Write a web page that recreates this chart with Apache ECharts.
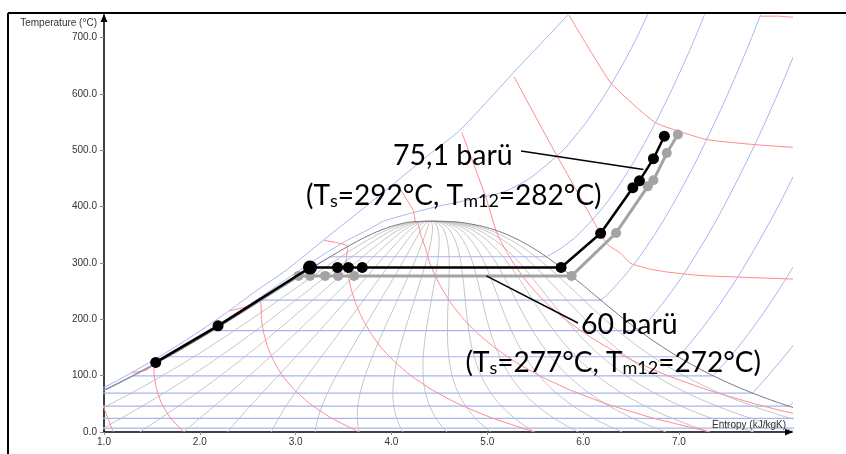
<!DOCTYPE html>
<html>
<head>
<meta charset="utf-8">
<script src="https://cdn.jsdelivr.net/npm/echarts@6/dist/echarts.min.js"></script>
<style>
  html, body { margin: 0; padding: 0; background: #fff; }
  #chart { width: 846px; height: 454px; }
</style>
</head>
<body>
<div id="chart"></div>
<script>
// Saturation table of water: temperature (°C), liquid / vapour entropy (kJ/kgK)
const satT  = [0.01, 10, 20, 30, 40, 50, 60, 70, 80, 90, 100, 110, 120, 130, 140, 150, 160, 170, 180, 190, 200, 210, 220, 230, 240, 250, 260, 270, 280, 290, 300, 310, 320, 330, 340, 350, 355, 360, 365, 370, 372, 373, 373.7, 373.95];
const satSf = [0.0000, 0.1510, 0.2966, 0.4369, 0.5724, 0.7038, 0.8313, 0.9551, 1.0756, 1.1929, 1.3072, 1.4188, 1.5279, 1.6346, 1.7392, 1.8418, 1.9426, 2.0417, 2.1392, 2.2355, 2.3305, 2.4245, 2.5177, 2.6101, 2.7020, 2.7935, 2.8849, 2.9765, 3.0685, 3.1612, 3.2552, 3.3510, 3.4494, 3.5518, 3.6601, 3.7784, 3.8438, 3.9167, 4.0014, 4.1112, 4.17, 4.22, 4.29, 4.4070];
const satSg = [9.1555, 8.8998, 8.6661, 8.4520, 8.2555, 8.0748, 7.9082, 7.7540, 7.6111, 7.4781, 7.3541, 7.2381, 7.1291, 7.0264, 6.9293, 6.8371, 6.7491, 6.6650, 6.5840, 6.5059, 6.4302, 6.3563, 6.2840, 6.2128, 6.1423, 6.0721, 6.0016, 5.9304, 5.8579, 5.7834, 5.7059, 5.6244, 5.5372, 5.4422, 5.3356, 5.2110, 5.1380, 5.0536, 4.9497, 4.8012, 4.72, 4.65, 4.56, 4.4070];

// Steam quality levels drawn inside the two-phase dome
const qualities = [0.05, 0.10, 0.15, 0.20, 0.25, 0.30, 0.35, 0.40, 0.45, 0.50, 0.55, 0.60, 0.65, 0.70, 0.75, 0.80, 0.85, 0.90, 0.95];

// Subcritical isobars (bar): saturation temperature and two-phase segment ends
const isoBar  = [0.01, 0.03, 0.1, 0.3, 1, 3, 10, 30, 100];
const isoTsat = [6.97, 24.08, 45.81, 69.10, 99.61, 133.52, 179.88, 233.85, 311.00];
const isoSf   = [0.1059, 0.3545, 0.6492, 0.9439, 1.3028, 1.6717, 2.1381, 2.6455, 3.3603];
const isoSg   = [8.9749, 8.5775, 8.1488, 7.7686, 7.3589, 6.9916, 6.5850, 6.1856, 5.6159];

// Superheated branches [s, T]
const sup0_1 = [[8.1488, 45.81], [8.24, 60]];
const sup0_3 = [[7.7686, 69.10], [7.931, 100], [8.176, 150], [8.40, 200]];
const sup1   = [[7.3589, 99.61], [7.6148, 150], [7.8356, 200], [8.0346, 250], [8.2172, 300]];
const sup3   = [[6.9916, 133.52], [7.0792, 150], [7.3132, 200], [7.5180, 250], [7.7037, 300], [8.0347, 400], [8.3271, 500]];
const sup10  = [[6.5850, 179.88], [6.6955, 200], [6.9265, 250], [7.1246, 300], [7.3029, 350], [7.4670, 400], [7.7642, 500], [8.0311, 600], [8.2755, 700]];
const sup30  = [[6.1856, 233.85], [6.2893, 250], [6.5412, 300], [6.7450, 350], [6.9235, 400], [7.0856, 450], [7.2359, 500], [7.5103, 600], [7.7590, 700], [7.9885, 800]];
const sup100 = [[5.6159, 311.0], [5.7596, 325], [5.9460, 350], [6.2141, 400], [6.4219, 450], [6.5995, 500], [6.7585, 550], [6.9045, 600], [7.0408, 650], [7.1693, 700], [7.4077, 800]];

// Compressed-liquid branch at 100 bar, and the 300 / 1000 bar isobars
const liq100 = [[0.5705, 40], [1.0720, 80], [1.3004, 100], [1.7307, 140], [2.1289, 180], [2.5038, 220], [2.8710, 260], [3.2488, 300], [3.3603, 311.0]];
const p300 = [[0.289, 20], [0.5646, 40], [0.8233, 60], [1.0640, 80], [1.2943, 100], [1.5088, 120], [1.7158, 140], [1.9132, 160], [2.1020, 180], [2.2850, 200], [2.4630, 220], [2.6373, 240], [2.8094, 260], [2.9813, 280], [3.1553, 300], [3.3364, 320], [3.5363, 340], [3.7675, 360], [3.9305, 375], [4.4728, 400], [5.1503, 425], [5.4423, 450], [5.7904, 500], [6.0342, 550], [6.2331, 600], [6.4058, 650], [6.5606, 700], [6.8332, 800]];
const p1000 = [[0.53, 40], [1.0, 79], [1.285, 105], [1.735, 150], [2.18, 200], [2.584, 250], [2.90, 287], [3.36, 350], [3.73, 400], [4.09, 450], [4.45, 500], [4.71, 535], [5.07, 600], [5.34, 650], [5.62, 700], [5.84, 740]];

// Isenthalps (kJ/kg) [s, T]
const h300  = [[0.99, 47], [1.05, 20], [1.097, 0.01]];
const h500  = [[1.285, 105], [1.445, 110], [1.52, 119.6], [1.524, 100], [1.55, 75], [1.603, 50], [1.693, 25], [1.83, 0.01]];
const h1000 = [[2.31, 215], [2.48, 222], [2.63, 232], [2.643, 200], [2.668, 175], [2.71, 150], [2.774, 125], [2.862, 100], [2.986, 75], [3.15, 50], [3.369, 25], [3.66, 0.01]];
const h1500 = [[3.30, 340], [3.43, 336], [3.544, 329.5], [3.53, 310], [3.526, 300], [3.55, 275], [3.585, 250], [3.634, 225], [3.70, 200], [3.785, 175], [3.891, 150], [4.03, 125], [4.204, 100], [4.422, 75], [4.697, 50], [5.047, 25], [5.49, 0.01]];
const h2000 = [[4.055, 440.7], [4.15, 415], [4.228, 393], [4.25, 373], [4.278, 370], [4.306, 350], [4.358, 325], [4.399, 300], [4.463, 275], [4.541, 250], [4.636, 225], [4.755, 200], [4.901, 175], [5.075, 150], [5.286, 125], [5.544, 100], [5.858, 75], [6.244, 50], [6.724, 25], [7.322, 0.01]];
const h2500 = [[4.733, 532], [4.98, 419], [5.09, 357.7], [5.136, 340], [5.201, 320], [5.271, 300], [5.375, 275], [5.496, 250], [5.639, 225], [5.813, 200], [6.017, 175], [6.255, 150], [6.542, 125], [6.883, 100], [7.294, 75], [7.791, 50], [8.02, 40], [8.267, 30]];
const h3000 = [[5.28, 630], [5.656, 512], [5.969, 417], [6.247, 334], [6.386, 318], [6.50, 299], [6.70, 289], [6.873, 284], [7.20, 278], [7.60, 275], [8.25, 271]];
const h3500 = [[5.85, 740], [6.07, 678], [6.296, 618], [6.755, 549], [7.29, 519], [7.79, 510], [8.20, 505]];
const h4000 = [[7.85, 738], [8.03, 738], [8.35, 733]];

// Process lines: 60 bar (grey) and 75.1 bar (black), [s, T]
const line60 = [[1.54, 123.5], [2.19, 188.4], [3.03, 277], [3.15, 277], [3.307, 277], [3.443, 277], [3.61, 277], [5.88, 277], [6.344, 353.2], [6.675, 435.9], [6.734, 446.6], [6.873, 495], [6.989, 528]];
const line75 = [[1.54, 123.5], [2.19, 188.4], [3.15, 292], [3.437, 292], [3.55, 292], [3.695, 292], [5.77, 292], [6.183, 352.6], [6.519, 433.6], [6.588, 445.7], [6.734, 485], [6.848, 524.9]];

// Axis ticks
const sTicks = [1, 2, 3, 4, 5, 6, 7];
const tTicks = [0, 100, 200, 300, 400, 500, 600, 700];

const BLUE = '#a7b5f2';
const RED = '#ff8a8a';
const QGREY = '#c6c6c6';

function bg(data, color, width, z, smooth) {
  return {
    type: 'line', data: data, symbol: 'none', silent: true, smooth: smooth || false,
    lineStyle: { color: color, width: width }, z: z, clip: true, animation: false
  };
}

const series = [];

// quality grid (lever rule between the two saturation branches)
qualities.forEach(function (x) {
  series.push(bg(satT.map(function (T, i) { return [satSf[i] + x * (satSg[i] - satSf[i]), T]; }), QGREY, 1, 1));
});

// isobars: two-phase horizontals
isoBar.forEach(function (p, i) {
  series.push(bg([[isoSf[i], isoTsat[i]], [isoSg[i], isoTsat[i]]], BLUE, 1.2, 2));
});
[sup0_1, sup0_3, sup1, sup3, sup10, sup30, sup100].forEach(function (d) { series.push(bg(d, BLUE, 1, 2, 0.35)); });
series.push(bg(liq100, BLUE, 1, 2, 0.2));
series.push(bg(p300, BLUE, 1, 2, 0.2));
series.push(bg(p1000, BLUE, 1, 2, 0.3));

// isenthalps
[h300, h500, h1000, h1500, h2000, h2500, h3000, h3500, h4000].forEach(function (d) { series.push(bg(d, RED, 1, 3, 0.15)); });

// saturation dome
const dome = satT.map(function (T, i) { return [satSf[i], T]; })
  .concat(satT.slice().reverse().map(function (T, k) { return [satSg[satT.length - 1 - k], T]; }));
series.push(bg(dome, '#777777', 1, 4, 0.2));

// process lines
series.push({
  type: 'line', data: line60, symbol: 'circle', symbolSize: 10, silent: true,
  lineStyle: { color: '#a3a3a3', width: 3 }, itemStyle: { color: '#a3a3a3' }, z: 6, animation: false
});
series.push({
  type: 'line', data: line75, symbol: 'circle', silent: true,
  symbolSize: function (v, p) { return p.dataIndex === 2 ? 14 : 11; },
  lineStyle: { color: '#000000', width: 2.5 }, itemStyle: { color: '#000000' }, z: 7, animation: false
});

const chart = echarts.init(document.getElementById('chart'), null, { renderer: 'canvas' });

const axisFont = { fontFamily: 'Liberation Sans, Arial, sans-serif', fontSize: 10, color: '#333' };

chart.setOption({
  animation: false,
  backgroundColor: '#ffffff',
  grid: { left: 104, right: 54, top: 15, bottom: 22 },
  xAxis: {
    type: 'value', min: 1, max: 8.18, interval: 1,
    axisLine: { lineStyle: { color: '#000', width: 1.5 }, symbol: ['none', 'triangle'], symbolSize: [7, 8], symbolOffset: [0, -3] },
    axisTick: { length: 3, lineStyle: { color: '#888' }, customValues: sTicks },
    axisLabel: Object.assign({ customValues: sTicks, margin: 5, formatter: function (v) { return v.toFixed(1); } }, axisFont),
    splitLine: { show: false }
  },
  yAxis: {
    type: 'value', min: 0, max: 740, interval: 100,
    axisLine: { lineStyle: { color: '#000', width: 1.5 }, symbol: ['none', 'triangle'], symbolSize: [7, 8], symbolOffset: [0, -3] },
    axisTick: { length: 4, lineStyle: { color: '#888' }, customValues: tTicks },
    axisLabel: Object.assign({ customValues: tTicks, margin: 7, formatter: function (v) { return v.toFixed(1); } }, axisFont),
    splitLine: { show: false }
  },
  series: series
});

// annotations, anchored to points on the process lines
const a75 = chart.convertToPixel({ gridIndex: 0 }, [6.63, 466]);
const a60 = chart.convertToPixel({ gridIndex: 0 }, [4.99, 277]);

const bigFont = 'Lato, "Open Sans", sans-serif';
const rich = {
  sub: { fontFamily: bigFont, fontSize: 18, verticalAlign: 'bottom' }
};

chart.setOption({
  graphic: [
    { type: 'line', shape: { x1: 8, y1: 13, x2: 846, y2: 13 }, style: { stroke: '#000', lineWidth: 2 }, z: 100 },
    { type: 'line', shape: { x1: 8, y1: 13, x2: 8, y2: 454 }, style: { stroke: '#000', lineWidth: 2 }, z: 100 },
    { type: 'text', x: 97, y: 23, style: { text: 'Temperature (°C)', fontFamily: 'Liberation Sans, Arial, sans-serif', fontSize: 10, fill: '#333', align: 'right', verticalAlign: 'middle' }, z: 100 },
    { type: 'text', x: 786, y: 425, style: { text: 'Entropy (kJ/kgK)', fontFamily: 'Liberation Sans, Arial, sans-serif', fontSize: 10, fill: '#333', align: 'right', verticalAlign: 'middle' }, z: 100 },
    { type: 'line', shape: { x1: 521, y1: 151, x2: a75[0], y2: a75[1] }, style: { stroke: '#000', lineWidth: 1.5 }, z: 100 },
    { type: 'line', shape: { x1: a60[0], y1: a60[1], x2: 578, y2: 323 }, style: { stroke: '#000', lineWidth: 1.5 }, z: 100 },
    { type: 'text', x: 393, y: 156, style: { text: '75,1 barü', fontFamily: bigFont, fontSize: 28.5, fill: '#000', align: 'left', verticalAlign: 'middle' }, z: 100 },
    { type: 'text', x: 306, y: 196, style: { text: '(T{sub|s}=292°C, T{sub|m12}=282°C)', fontFamily: bigFont, fontSize: 28, fill: '#000', align: 'left', verticalAlign: 'middle', rich: rich }, z: 100 },
    { type: 'text', x: 581, y: 325, style: { text: '60 barü', fontFamily: bigFont, fontSize: 28.5, fill: '#000', align: 'left', verticalAlign: 'middle' }, z: 100 },
    { type: 'text', x: 761, y: 363, style: { text: '(T{sub|s}=277°C, T{sub|m12}=272°C)', fontFamily: bigFont, fontSize: 28, fill: '#000', align: 'right', verticalAlign: 'middle', rich: rich }, z: 100 }
  ]
});
</script>
</body>
</html>
